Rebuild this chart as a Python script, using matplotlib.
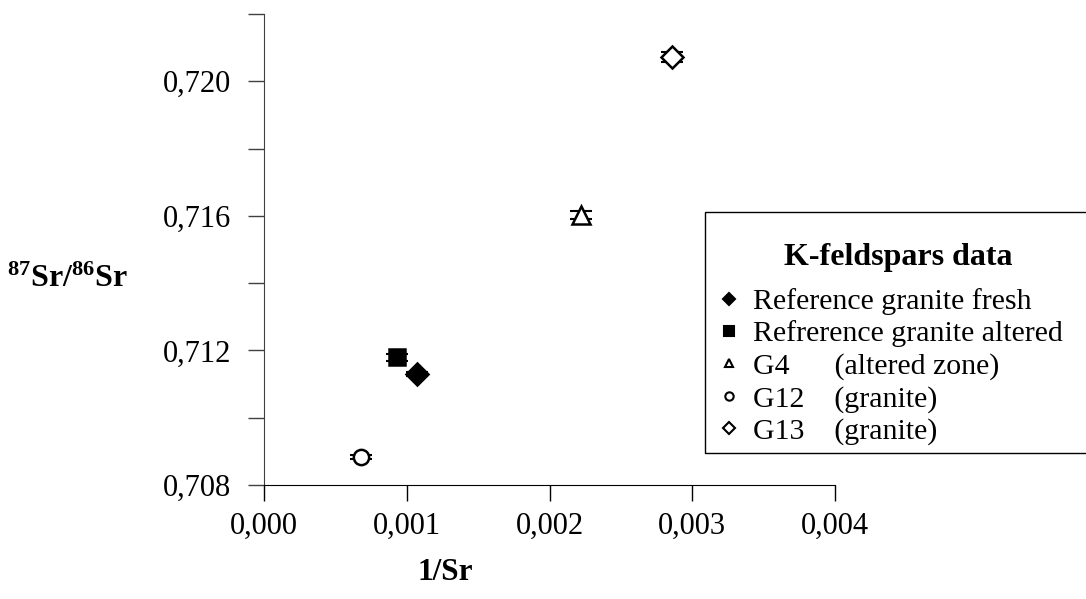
import matplotlib.pyplot as plt
from matplotlib.lines import Line2D
from matplotlib.patches import Rectangle

plt.rcParams['font.family'] = ['Liberation Serif', 'DejaVu Serif']
plt.rcParams['mathtext.fontset'] = 'custom'
plt.rcParams['mathtext.bf'] = 'Liberation Serif:bold'
plt.rcParams['mathtext.rm'] = 'Liberation Serif'

# Data
labels = ['Reference granite fresh', 'Refrerence granite altered',
          'G4      (altered zone)', 'G12    (granite)', 'G13    (granite)']
inv_sr = [0.00107, 0.00093, 0.00222, 0.00068, 0.00286]
sr_ratio = [0.71130, 0.71180, 0.71602, 0.70883, 0.72072]
sr_err = [0.00007, 0.00010, 0.00012, 0.00005, 0.00016]
markers = ['D', 's', '^', 'o', 'D']
filled = [True, True, False, False, False]
sizes = [11, 12, 13, 11, 11]

xticks = [0.000, 0.001, 0.002, 0.003, 0.004]
yticks = [0.708, 0.710, 0.712, 0.714, 0.716, 0.718, 0.720, 0.722]

W, H = 1086, 599
fig = plt.figure(figsize=(W / 100, H / 100), dpi=100)
ax = fig.add_axes([264 / W, 1 - 485 / H, (835 - 264) / W, (485 - 14) / H])

for x, y, e, m, f, s in zip(inv_sr, sr_ratio, sr_err, markers, filled, sizes):
    ax.errorbar(x, y, yerr=e, fmt='none', ecolor='black', elinewidth=1.5,
                capsize=8, capthick=1.5, zorder=2)
    ax.plot(x, y, marker=m, ms=s, mfc='black' if f else 'white',
            mec='black', mew=1.8, ls='none', zorder=3)

ax.set_xlim(0, 0.004)
ax.set_ylim(0.708, 0.722)
ax.set_xticks(xticks)
ax.set_xticklabels([f'{v:.3f}'.replace('.', ',') for v in xticks])
ax.set_yticks(yticks)
ax.set_yticklabels([f'{v:.3f}'.replace('.', ',') if round(v * 1000) % 4 == 0 else ''
                    for v in yticks])
ax.tick_params(axis='both', direction='out', length=11.5, width=1, labelsize=22)
ax.tick_params(axis='x', pad=8)
ax.tick_params(axis='y', pad=12, colors='#404040', labelcolor='black')
for side in ['top', 'right']:
    ax.spines[side].set_visible(False)
ax.spines['left'].set_color('#404040')
ax.spines['bottom'].set_color('black')

fig.text(445 / W, 1 - 572 / H, '1/Sr', fontsize=22.5, fontweight='bold',
         ha='center', va='center')
fig.text(68 / W, 1 - 279 / H, r'$\mathbf{^{87}Sr/^{86}Sr}$', fontsize=23,
         ha='center', va='center')

# legend box, title and entries
fig.patches.append(Rectangle((705 / W, 1 - 453 / H), 390 / W, 241 / H,
                             transform=fig.transFigure, fill=False,
                             edgecolor='black', linewidth=1))
fig.text(898 / W, 1 - 257 / H, 'K-feldspars data', fontsize=23,
         fontweight='bold', ha='center', va='center')
handles = [Line2D([], [], marker=m, ls='none', ms=6 if m != 's' else 7,
                  mfc='black' if f else 'white', mec='black', mew=1.5)
           for m, f in zip(markers, filled)]
leg = fig.legend(handles, labels, prop={'size': 21.5}, loc='upper left',
                 bbox_to_anchor=(714 / W, 1 - 288 / H), frameon=False,
                 borderaxespad=0, borderpad=0, labelspacing=0.18,
                 handletextpad=0.3, handlelength=1.0)

fig.savefig('out.png', dpi=100)
